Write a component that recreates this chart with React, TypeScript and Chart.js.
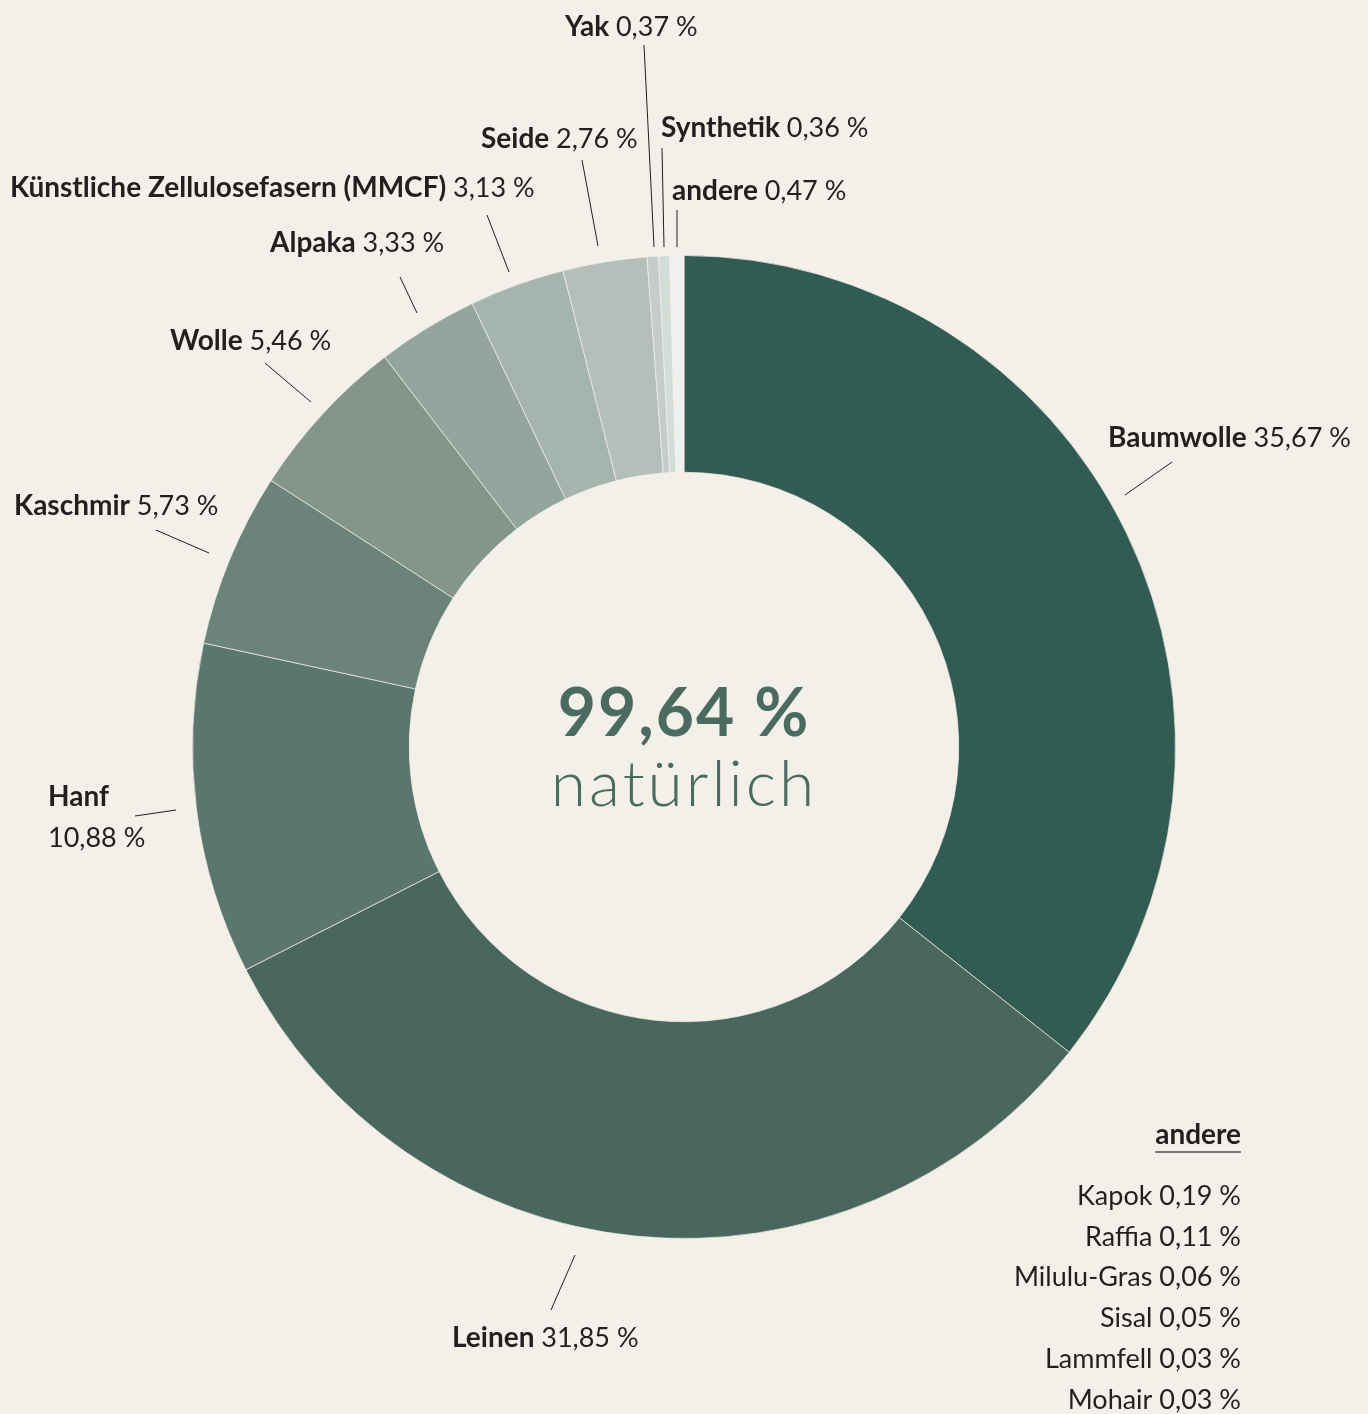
import { useEffect, useRef } from 'react';
import { Chart, registerables } from 'chart.js';

Chart.register(...registerables);

// ---- data ----
const categories = [
  'Baumwolle',
  'Leinen',
  'Hanf',
  'Kaschmir',
  'Wolle',
  'Alpaka',
  'Künstliche Zellulosefasern (MMCF)',
  'Seide',
  'Yak',
  'Synthetik',
  'andere',
];
const shares = [35.67, 31.85, 10.88, 5.73, 5.46, 3.33, 3.13, 2.76, 0.37, 0.36, 0.47];
const otherNames = ['Kapok', 'Raffia', 'Milulu-Gras', 'Sisal', 'Lammfell', 'Mohair'];
const otherShares = [0.19, 0.11, 0.06, 0.05, 0.03, 0.03];
const otherTitle = 'andere';
const naturalShare = 99.64;
const centerCaption = 'natürlich';

// ---- styles ----
const segmentColors = [
  '#325b51',
  '#4a675e',
  '#5b766c',
  '#6c837a',
  '#84958c',
  '#94a59d',
  '#a6b4ae',
  '#b4bfba',
  '#c4cdc9',
  '#d3ddd8',
  '#eef1ee',
];
const BG = '#f3f0ea';
const TEXT = '#231f20';
const ACCENT = '#4b6a60';
const FONT = 'Lato, "Open Sans", sans-serif';

// label annotation layout (label anchor, leader line endpoints)
type LabelLayout = { x: number; y: number; line: [number, number, number, number]; twoLine?: boolean };
const labelLayout: LabelLayout[] = [
  { x: 1108, y: 438, line: [1125, 495, 1172, 462] },
  { x: 452, y: 1338, line: [575, 1255, 551, 1310] },
  { x: 48, y: 797, line: [135, 816, 176, 810], twoLine: true },
  { x: 14, y: 506, line: [156, 530, 209, 553] },
  { x: 170, y: 341, line: [265, 363, 311, 402] },
  { x: 270, y: 243, line: [400, 277, 417, 313] },
  { x: 10, y: 188, line: [487, 215, 509, 272] },
  { x: 481, y: 139, line: [582, 160, 598, 246] },
  { x: 565, y: 27, line: [644, 45, 654, 247] },
  { x: 661, y: 128, line: [662, 148, 664, 247] },
  { x: 672, y: 191, line: [677, 210, 677, 247] },
];

const fmt = (v: number) => v.toFixed(2).replace('.', ',') + ' %';

const labelPlugin = {
  id: 'labels',
  beforeDraw(chart: any) {
    const { ctx, width, height } = chart;
    ctx.save();
    ctx.fillStyle = BG;
    ctx.fillRect(0, 0, width, height);
    ctx.restore();
  },
  afterDraw(chart: any) {
    const ctx = chart.ctx as CanvasRenderingContext2D;
    const arc = chart.getDatasetMeta(0).data[0];
    const cx = arc.x;
    const cy = arc.y;
    ctx.save();
    ctx.textBaseline = 'middle';
    // leader lines + labels
    categories.forEach((name, i) => {
      const L = labelLayout[i];
      ctx.strokeStyle = TEXT;
      ctx.lineWidth = 1;
      ctx.beginPath();
      ctx.moveTo(L.line[0], L.line[1]);
      ctx.lineTo(L.line[2], L.line[3]);
      ctx.stroke();

      ctx.fillStyle = TEXT;
      ctx.textAlign = 'left';
      ctx.font = `bold 28px ${FONT}`;
      ctx.fillText(name, L.x, L.y);
      const w = ctx.measureText(name + ' ').width;
      ctx.font = `400 27px ${FONT}`;
      if (L.twoLine) {
        ctx.fillText(fmt(shares[i]), L.x, L.y + 41);
      } else {
        ctx.fillText(fmt(shares[i]), L.x + w, L.y);
      }
    });

    // center text
    ctx.textAlign = 'center';
    ctx.fillStyle = ACCENT;
    ctx.font = `bold 66px ${FONT}`;
    (ctx as any).letterSpacing = '2px';
    ctx.fillText(fmt(naturalShare), cx, cy - 32);
    ctx.font = `300 64px ${FONT}`;
    (ctx as any).letterSpacing = '3px';
    ctx.fillText(centerCaption, cx, cy + 38);
    (ctx as any).letterSpacing = '0px';

    // breakdown of "andere"
    const rx = 1241;
    ctx.textAlign = 'right';
    ctx.fillStyle = TEXT;
    ctx.font = `bold 28px ${FONT}`;
    ctx.fillText(otherTitle, rx, 1135);
    const tw = ctx.measureText(otherTitle).width;
    ctx.strokeStyle = '#555';
    ctx.lineWidth = 1.5;
    ctx.beginPath();
    ctx.moveTo(rx - tw, 1152);
    ctx.lineTo(rx, 1152);
    ctx.stroke();
    ctx.font = `400 27px ${FONT}`;
    otherNames.forEach((n, i) => {
      ctx.fillText(`${n} ${fmt(otherShares[i])}`, rx, 1196 + i * 40.8);
    });
    ctx.restore();
  },
};

export default function App() {
  const ref = useRef<HTMLCanvasElement | null>(null);
  useEffect(() => {
    document.body.style.margin = '0';
    document.body.style.background = BG;
    const chart = new Chart(ref.current!, {
      type: 'doughnut',
      data: {
        labels: categories,
        datasets: [
          {
            data: shares,
            backgroundColor: segmentColors,
            borderColor: 'rgba(243,240,234,0.7)',
            borderWidth: 1,
            hoverOffset: 0,
          },
        ],
      },
      options: {
        responsive: false,
        devicePixelRatio: 1,
        animation: false,
        cutout: '55.9%',
        rotation: 0,
        layout: { padding: { left: 192, right: 192, top: 255, bottom: 175 } },
        plugins: { legend: { display: false }, tooltip: { enabled: false } },
        events: [],
      },
      plugins: [labelPlugin],
    });
    return () => chart.destroy();
  }, []);
  return (
    <div style={{ width: 1368, height: 1414, background: BG }}>
      <canvas ref={ref} width={1368} height={1414} style={{ display: 'block' }} />
    </div>
  );
}
